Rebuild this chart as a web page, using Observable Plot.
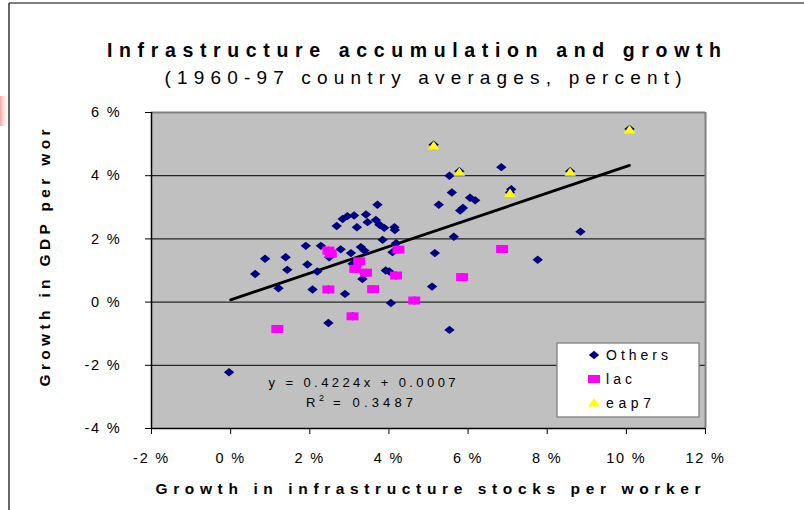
<!DOCTYPE html>
<html>
<head>
<meta charset="utf-8">
<script src="https://cdn.jsdelivr.net/npm/d3@7"></script>
<script src="https://cdn.jsdelivr.net/npm/@observablehq/plot@0.6"></script>
<style>
  html, body { margin: 0; padding: 0; background: #fff; }
  #chart { position: relative; width: 804px; height: 510px; overflow: hidden; }
  svg text { font-family: "Liberation Sans", Arial, sans-serif; }
</style>
</head>
<body>
<div id="chart"></div>
<script>
// ---- Data (percent) ----
const othersX = [5.53,5.59,5.26,6.05,6.18,5.80,5.87,3.71,2.83,2.95,3.12,3.42,2.68,3.19,3.46,3.67,3.76,3.88,4.14,4.15,3.84,5.64,4.18,1.90,2.28,2.78,3.04,3.29,3.38,2.49,4.09,5.16,0.87,1.39,0.62,1.43,1.94,2.19,3.08,3.33,3.92,4.01,1.21,2.07,2.89,5.09,4.05,2.47,5.53,-0.04,6.84,8.84,7.76,7.09];
const othersY = [4.00,3.47,3.08,3.30,3.22,2.90,2.98,3.08,2.63,2.72,2.74,2.77,2.41,2.37,2.53,2.60,2.45,2.35,2.37,2.28,1.97,2.07,1.86,1.78,1.78,1.67,1.55,1.74,1.63,1.42,1.58,1.55,1.37,1.42,0.89,1.02,1.19,0.97,1.21,0.73,1.00,0.97,0.44,0.40,0.26,0.49,-0.03,-0.66,-0.88,-2.22,4.27,2.23,1.34,3.57];
const lacX = [2.47,2.53,4.24,3.25,3.15,3.42,4.18,5.85,2.47,3.60,4.64,3.08,1.18,6.86];
const lacY = [1.63,1.53,1.66,1.29,1.05,0.93,0.84,0.79,0.40,0.41,0.05,-0.45,-0.85,1.68];
const eapX = [5.13,5.78,10.08,8.58,7.06];
const eapY = [4.95,4.11,5.45,4.11,3.44];
const seriesNames = ["Others", "lac", "eap7"];
const slope = 0.4224, intercept = 0.07; // percent units (0.0007 -> 0.07 %)
const equationText = "y = 0.4224x + 0.0007";
const r2Text = "= 0.3487";
const xTicks = [-2,0,2,4,6,8,10,12];
const xTickLabels = ["-2 %","0 %","2 %","4 %","6 %","8 %","10 %","12 %"];
const yTicks = [-4,-2,0,2,4,6];
const yTickLabels = ["-4 %","-2 %","0 %","2 %","4 %","6 %"];
const gridY = [-2,0,2,4];
const titleText = "Infrastructure accumulation and growth";
const subtitleText = "(1960-97 country averages, percent)";
const xTitle = "Growth in infrastructure stocks per worker";
const yTitle = "Growth in GDP per wor";

// ---- Build tables ----
const others = othersX.map((x,i)=>({x, y: othersY[i]}));
const lac = lacX.map((x,i)=>({x, y: lacY[i]}));
const eap = eapX.map((x,i)=>({x, y: eapY[i]}));
const allX = othersX.concat(lacX, eapX);
const xMax = d3.max(allX);
const trend = [0, xMax].map(x => ({x, y: slope*x + intercept}));

const colors = {Others: "#000080", lac: "#FF00FF", eap7: "#FFFF00"};

const diamond = {draw(c){ c.moveTo(0,-4.2); c.lineTo(5.2,0); c.lineTo(0,4.2); c.lineTo(-5.2,0); c.closePath(); }};
const square = {draw(c){ c.moveTo(-6,-4); c.lineTo(6,-4); c.lineTo(6,4); c.lineTo(-6,4); c.closePath(); }};
const triangle = {draw(c){ c.moveTo(0,-4.8); c.lineTo(5.8,3.6); c.lineTo(-5.8,3.6); c.closePath(); }};

const plot = Plot.plot({
  width: 804,
  height: 510,
  marginLeft: 151,
  marginRight: 99,
  marginTop: 112,
  marginBottom: 82,
  x: {domain: [-2, 12]},
  y: {domain: [-4, 6]},
  style: {background: "transparent", fontFamily: "Liberation Sans, Arial, sans-serif"},
  marks: [
    Plot.frame({fill: "#C0C0C0", stroke: "none"}),
    Plot.ruleY(gridY, {stroke: "#000", strokeWidth: 1}),
    Plot.ruleY([6], {stroke: "#808080", strokeWidth: 2}),
    Plot.ruleX([12], {stroke: "#808080", strokeWidth: 2}),
    Plot.ruleX([-2], {stroke: "#000", strokeWidth: 1.5}),
    Plot.ruleY([-4], {stroke: "#000", strokeWidth: 1.5}),
    Plot.axisX({ticks: xTicks, tickFormat: (d) => xTickLabels[xTicks.indexOf(d)], tickSize: 6, tickPadding: 18, fontSize: 14.5, label: null, stroke: "#000", color: "#000"}),
    Plot.axisY({ticks: yTicks, tickFormat: (d) => yTickLabels[yTicks.indexOf(d)], tickSize: 6, tickPadding: 24, fontSize: 14.5, label: null, stroke: "#000", color: "#000"}),
    Plot.line(trend, {x: "x", y: "y", stroke: "#000", strokeWidth: 2.8}),
    Plot.dot(others, {x: "x", y: "y", symbol: diamond, fill: colors.Others, stroke: "none"}),
    Plot.dot(lac, {x: "x", y: "y", symbol: diamond, fill: colors.Others, stroke: "none"}),
    Plot.dot(eap, {x: "x", y: "y", symbol: diamond, fill: colors.Others, stroke: "none", dy: -1}),
    Plot.dot(lac, {x: "x", y: "y", symbol: square, fill: colors.lac, stroke: "none"}),
    Plot.dot(eap, {x: "x", y: "y", symbol: triangle, fill: colors.eap7, stroke: "none"})
  ]
});

document.getElementById("chart").appendChild(plot);
const svg = d3.select(plot);
svg.style("position","absolute").style("left","0px").style("top","0px").style("overflow","visible");
svg.selectAll('g[aria-label="x-axis tick label"] text, g[aria-label="y-axis tick label"] text').style("letter-spacing","1.8px");

// outer frame & artifact
const defs = svg.insert("defs", ":first-child");
const grad = defs.append("linearGradient").attr("id","pinkfade").attr("x1","0").attr("x2","1");
grad.append("stop").attr("offset","0").attr("stop-color","#f08080").attr("stop-opacity",0.7);
grad.append("stop").attr("offset","1").attr("stop-color","#ffffff").attr("stop-opacity",0);
svg.append("rect").attr("x",0).attr("y",96).attr("width",10).attr("height",30).attr("fill","url(#pinkfade)");
svg.append("line").attr("x1",9).attr("x2",9).attr("y1",3).attr("y2",510).attr("stroke","#000").attr("stroke-width",1.2);
svg.append("line").attr("x1",9).attr("x2",804).attr("y1",3).attr("y2",3).attr("stroke","#000").attr("stroke-width",1.2);

function addText(txt, x, y, opts) {
  const t = svg.append("text").attr("x", x).attr("y", y).text(txt)
    .attr("text-anchor", opts.anchor || "middle")
    .attr("font-size", opts.size)
    .attr("font-weight", opts.bold ? "bold" : "normal")
    .attr("fill", "#000");
  if (opts.len) t.attr("textLength", opts.len).attr("lengthAdjust", "spacing");
  if (opts.rotate) t.attr("transform", `rotate(-90 ${x} ${y})`);
  return t;
}
addText(titleText, 414, 57, {size: 19.5, bold: true, len: 614});
addText(subtitleText, 423, 84, {size: 19, len: 517});
addText(xTitle, 428, 494, {size: 15.5, bold: true, len: 545});
addText(yTitle, 50, 258, {size: 15.5, bold: true, len: 257, rotate: true});
addText(equationText, 362, 387, {size: 13, len: 187});
addText("R", 306, 407, {size: 13, anchor: "start"});
addText("2", 319, 401, {size: 9, anchor: "start"});
addText(r2Text, 333, 407, {size: 13, len: 80, anchor: "start"});

// legend
const lg = svg.append("g");
lg.append("rect").attr("x",557).attr("y",343).attr("width",142).attr("height",74).attr("fill","#fff").attr("stroke","#808080").attr("stroke-width",1.3);
const legendSymbols = [diamond, square, triangle];
const legendLens = [62, 26, 45];
seriesNames.forEach((name, i) => {
  const cy = 355 + i*24;
  const p = d3.path(); legendSymbols[i].draw(p);
  lg.append("path").attr("d", p.toString()).attr("transform", `translate(594,${cy})`).attr("fill", colors[name]);
  lg.append("text").attr("x", 606).attr("y", cy + 5).text(name).attr("font-size", 14).attr("fill","#000")
    .attr("text-anchor","start")
    .attr("textLength", legendLens[i]).attr("lengthAdjust","spacing");
});
</script>
</body>
</html>
